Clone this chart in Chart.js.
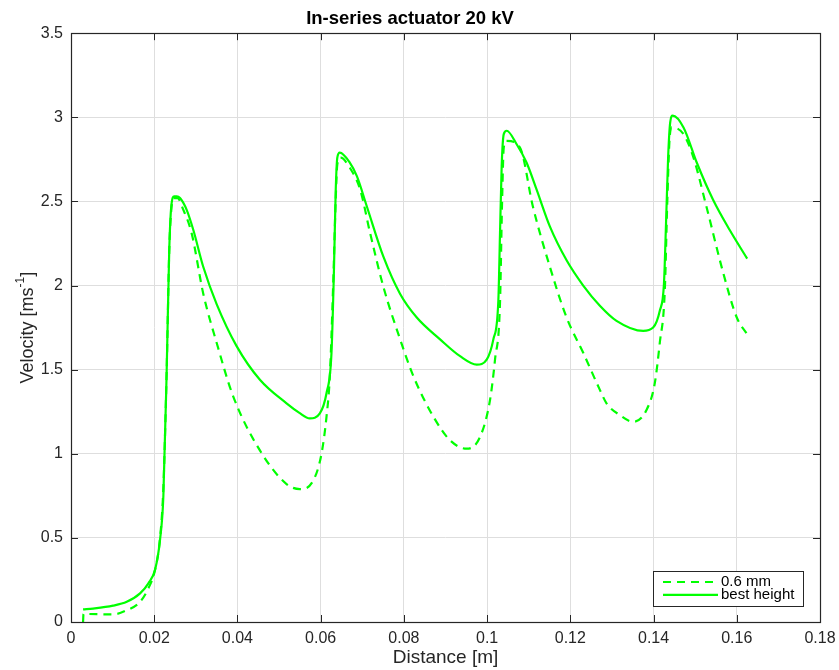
<!DOCTYPE html>
<html>
<head>
<meta charset="utf-8">
<title>In-series actuator 20 kV</title>
<script src="https://cdn.jsdelivr.net/npm/chart.js@4.4.1/dist/chart.umd.min.js"></script>
<style>
  html, body { margin: 0; padding: 0; background: #ffffff; }
  #wrap { width: 839px; height: 670px; }
</style>
</head>
<body>
<div id="wrap"><canvas id="velocityChart" width="839" height="670"></canvas></div>
<script>
// data
const seriesLabels = ["0.6 mm", "best height"];

const distDashed = [
  0.0029, 0.0030, 0.0101, 0.0134, 0.0166, 0.0186, 0.0202, 0.0214, 0.0222, 0.0230,
  0.0236, 0.0241, 0.0248, 0.0256, 0.0270, 0.0290, 0.0318, 0.0350, 0.0390, 0.0454,
  0.0518, 0.0550, 0.0582, 0.0602, 0.0614, 0.0622, 0.0630, 0.0636, 0.0640, 0.0648,
  0.0670, 0.0695, 0.0719, 0.0751, 0.0791, 0.0823, 0.0871, 0.0911, 0.0951, 0.0983,
  0.1007, 0.1019, 0.1031, 0.1036, 0.1040, 0.1047, 0.1079, 0.1110, 0.1151, 0.1191,
  0.1231, 0.1271, 0.1287, 0.1319, 0.1351, 0.1383, 0.1403, 0.1415, 0.1427, 0.1433,
  0.1438, 0.1443, 0.1472, 0.1496, 0.1527, 0.1568, 0.1600, 0.1625
];
const velDashed = [
  0.00, 0.048, 0.045, 0.07, 0.12, 0.20, 0.31, 0.50, 0.80, 1.50,
  2.20, 2.45, 2.52, 2.52, 2.45, 2.31, 1.95, 1.66, 1.34, 1.02,
  0.82, 0.79, 0.84, 1.00, 1.22, 1.46, 2.00, 2.50, 2.72, 2.76,
  2.70, 2.57, 2.31, 1.99, 1.68, 1.46, 1.22, 1.08, 1.03, 1.10,
  1.32, 1.56, 1.90, 2.50, 2.82, 2.86, 2.82, 2.47, 2.11, 1.81,
  1.60, 1.38, 1.30, 1.23, 1.19, 1.26, 1.42, 1.66, 1.97, 2.50,
  2.85, 2.94, 2.90, 2.76, 2.47, 2.07, 1.81, 1.71
];

const distSolid = [
  0.0029, 0.0053, 0.0101, 0.0134, 0.0166, 0.0186, 0.0202, 0.0214, 0.0222, 0.0230,
  0.0236, 0.0241, 0.0248, 0.0254, 0.0262, 0.0278, 0.0294, 0.0318, 0.0350, 0.0398,
  0.0454, 0.0518, 0.0548, 0.0574, 0.0598, 0.0614, 0.0626, 0.0632, 0.0636, 0.0640,
  0.0646, 0.0670, 0.0687, 0.0711, 0.0751, 0.0791, 0.0831, 0.0887, 0.0935, 0.0975,
  0.0999, 0.1015, 0.1027, 0.1031, 0.1035, 0.1040, 0.1047, 0.1071, 0.1095, 0.1119,
  0.1151, 0.1191, 0.1231, 0.1271, 0.1311, 0.1375, 0.1399, 0.1415, 0.1425, 0.1430,
  0.1435, 0.1440, 0.1446, 0.1472, 0.1504, 0.1543, 0.1583, 0.1625
];
const velSolid = [
  0.075, 0.08, 0.097, 0.12, 0.17, 0.23, 0.31, 0.49, 0.75, 1.50,
  2.20, 2.47, 2.53, 2.53, 2.52, 2.45, 2.33, 2.11, 1.89, 1.64,
  1.44, 1.30, 1.245, 1.21, 1.24, 1.36, 1.60, 2.10, 2.55, 2.76,
  2.79, 2.73, 2.65, 2.47, 2.17, 1.95, 1.81, 1.68, 1.58, 1.53,
  1.56, 1.68, 1.91, 2.31, 2.71, 2.90, 2.92, 2.84, 2.73, 2.57,
  2.35, 2.15, 2.00, 1.88, 1.79, 1.73, 1.75, 1.85, 2.01, 2.37,
  2.76, 2.97, 3.01, 2.94, 2.73, 2.51, 2.33, 2.16
];

const xTickLabels = ["0", "0.02", "0.04", "0.06", "0.08", "0.1", "0.12", "0.14", "0.16", "0.18"];
const yTickLabels = ["0", "0.5", "1", "1.5", "2", "2.5", "3", "3.5"];

const FONT = "'Liberation Sans', Arial, Helvetica, sans-serif";
const LINE_GREEN = "#00ff00";
const AXIS_COLOR = "#262626";
const TICK_LEN = 7;

const toPoints = (xs, ys) => xs.map((x, i) => ({ x: x, y: ys[i] }));

// box around the axes with inward ticks on all four sides
const boxPlugin = {
  id: "matlabBox",
  afterDatasetsDraw: (chart) => {
    const { ctx, chartArea, scales: { x, y } } = chart;
    const { left, right, top, bottom } = chartArea;
    ctx.save();
    ctx.strokeStyle = AXIS_COLOR;
    ctx.lineWidth = 1;
    ctx.beginPath();
    x.ticks.forEach((t) => {
      const px = Math.round(x.getPixelForValue(t.value)) + 0.5;
      ctx.moveTo(px, bottom);
      ctx.lineTo(px, bottom - TICK_LEN);
      ctx.moveTo(px, top);
      ctx.lineTo(px, top + TICK_LEN);
    });
    y.ticks.forEach((t) => {
      const py = Math.round(y.getPixelForValue(t.value)) + 0.5;
      ctx.moveTo(left, py);
      ctx.lineTo(left + TICK_LEN, py);
      ctx.moveTo(right, py);
      ctx.lineTo(right - TICK_LEN, py);
    });
    ctx.stroke();
    ctx.lineWidth = 1.2;
    ctx.strokeRect(Math.round(left) + 0.5, Math.round(top) + 0.5,
      Math.round(right - left), Math.round(bottom - top));
    ctx.restore();
  },
};

// y axis title with the superscript unit
const yTitlePlugin = {
  id: "yTitle",
  afterDraw: (chart) => {
    const { ctx, chartArea } = chart;
    const cy = (chartArea.top + chartArea.bottom) / 2;
    const parts = [
      { text: "Velocity [ms", size: 18, shift: 0 },
      { text: "-1", size: 12, shift: -7 },
      { text: "]", size: 18, shift: 0 },
    ];
    ctx.save();
    ctx.translate(28, cy);
    ctx.rotate(-Math.PI / 2);
    ctx.fillStyle = AXIS_COLOR;
    ctx.textBaseline = "middle";
    ctx.textAlign = "left";
    let total = 0;
    parts.forEach((p) => {
      ctx.font = p.size + "px " + FONT;
      p.w = ctx.measureText(p.text).width;
      total += p.w;
    });
    let cx = -total / 2;
    parts.forEach((p) => {
      ctx.font = p.size + "px " + FONT;
      ctx.fillText(p.text, cx, p.shift);
      cx += p.w;
    });
    ctx.restore();
  },
};

// legend box in the lower right corner
const legendPlugin = {
  id: "boxLegend",
  afterDraw: (chart) => {
    const { ctx, chartArea } = chart;
    const boxW = 150;
    const boxH = 35;
    const bx = chartArea.right - 17 - boxW;
    const by = chartArea.bottom - 16 - boxH;
    ctx.save();
    ctx.fillStyle = "#ffffff";
    ctx.fillRect(bx, by, boxW, boxH);
    ctx.strokeStyle = AXIS_COLOR;
    ctx.lineWidth = 1;
    ctx.strokeRect(Math.round(bx) + 0.5, Math.round(by) + 0.5, boxW, boxH);
    ctx.font = "15px " + FONT;
    ctx.textBaseline = "middle";
    chart.data.datasets.forEach((ds, i) => {
      const ry = by + 11 + i * 12.8;
      ctx.beginPath();
      ctx.strokeStyle = ds.borderColor;
      ctx.lineWidth = ds.borderWidth;
      ctx.setLineDash(ds.borderDash || []);
      ctx.moveTo(bx + 10, ry);
      ctx.lineTo(bx + 65, ry);
      ctx.stroke();
      ctx.setLineDash([]);
      ctx.fillStyle = "#000000";
      ctx.fillText(ds.label, bx + 68, ry);
    });
    ctx.restore();
  },
};

const config = {
  type: "line",
  data: {
    datasets: [
      {
        label: seriesLabels[0],
        data: toPoints(distDashed, velDashed),
        borderColor: LINE_GREEN,
        borderWidth: 2.2,
        borderDash: [8, 6],
        pointRadius: 0,
        fill: false,
        cubicInterpolationMode: "monotone",
      },
      {
        label: seriesLabels[1],
        data: toPoints(distSolid, velSolid),
        borderColor: LINE_GREEN,
        borderWidth: 2.2,
        pointRadius: 0,
        fill: false,
        cubicInterpolationMode: "monotone",
      },
    ],
  },
  plugins: [boxPlugin, yTitlePlugin, legendPlugin],
  options: {
    responsive: false,
    animation: false,
    events: [],
    layout: { padding: { top: 0, right: 19, left: 0, bottom: 0 } },
    plugins: {
      legend: { display: false },
      tooltip: { enabled: false },
      title: {
        display: true,
        text: "In-series actuator 20 kV",
        color: "#000000",
        font: { family: FONT, size: 18.5, weight: "bold" },
        padding: { top: 7.5, bottom: 3.5 },
      },
    },
    scales: {
      x: {
        type: "linear",
        min: 0,
        max: 0.18,
        border: { display: false },
        grid: { color: "#dedede", lineWidth: 1, drawTicks: false },
        ticks: {
          stepSize: 0.02,
          padding: 7,
          color: AXIS_COLOR,
          font: { family: FONT, size: 16 },
          maxRotation: 0,
          callback: (v, i) => xTickLabels[i],
        },
        title: {
          display: true,
          text: "Distance [m]",
          color: AXIS_COLOR,
          font: { family: FONT, size: 19 },
          padding: { top: 0, bottom: 1 },
        },
        afterFit: (s) => {
          s.height = 48;
          s.paddingLeft = 0;
          s.paddingRight = 0;
        },
      },
      y: {
        type: "linear",
        min: 0,
        max: 3.5,
        border: { display: false },
        grid: { color: "#dedede", lineWidth: 1, drawTicks: false },
        ticks: {
          stepSize: 0.5,
          padding: 8,
          color: AXIS_COLOR,
          font: { family: FONT, size: 16 },
          callback: (v, i) => yTickLabels[i],
        },
        afterFit: (s) => {
          s.width = 71;
          s.paddingTop = 0;
          s.paddingBottom = 0;
        },
      },
    },
  },
};

new Chart(document.getElementById("velocityChart").getContext("2d"), config);
</script>
</body>
</html>
